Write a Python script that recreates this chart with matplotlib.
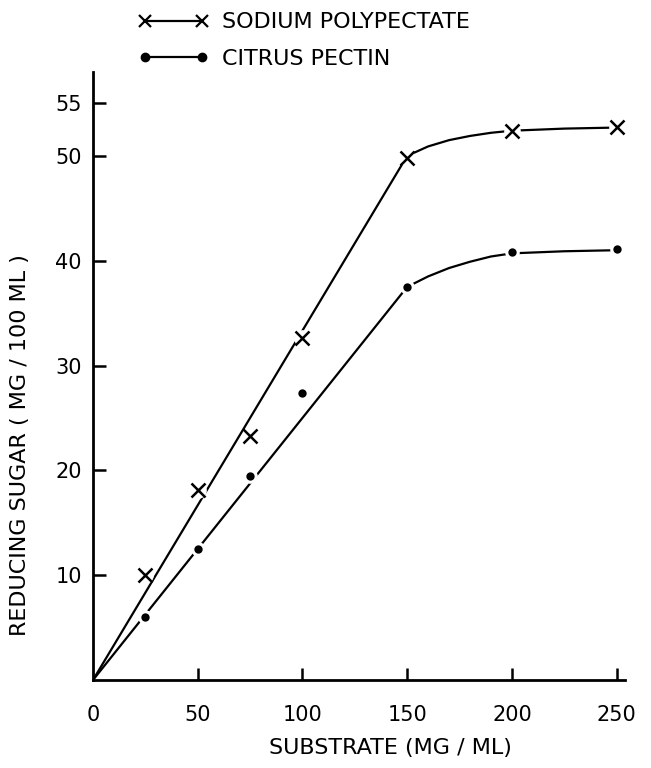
import matplotlib
matplotlib.use("Agg")
import matplotlib.pyplot as plt
from matplotlib.lines import Line2D

# Data
substrate = [25, 50, 75, 100, 150, 200, 250]
sodium_polypectate = [10.0, 18.1, 23.3, 32.6, 49.8, 52.4, 52.8]
citrus_pectin = [6.0, 12.5, 19.5, 27.4, 37.5, 40.8, 41.1]

# Hand-drawn fitted curves (knots)
fit_x = [0, 150, 160, 170, 180, 190, 200, 225, 250]
fit_sodium = [0, 50.0, 50.9, 51.5, 51.9, 52.2, 52.4, 52.6, 52.7]
fit_citrus = [0, 37.5, 38.5, 39.3, 39.9, 40.4, 40.7, 40.9, 41.0]

x_ticks = [0, 50, 100, 150, 200, 250]
y_ticks = [10, 20, 30, 40, 50, 55]

plt.rcParams['font.family'] = ['DejaVu Sans']

fig = plt.figure(figsize=(6.51, 7.68), dpi=100)
ax = fig.add_axes([93/651, 88/768, (625-93)/651, (680-72)/768])

ax.plot(fit_x, fit_sodium, color='black', lw=1.6, solid_capstyle='round')
ax.plot(fit_x, fit_citrus, color='black', lw=1.6, solid_capstyle='round')
# white halos give the small gaps of the hand-drawn line around marks
ax.plot(substrate, sodium_polypectate, linestyle='none', marker='o',
        color='white', markersize=12, markeredgewidth=0, zorder=3)
ax.plot(substrate, citrus_pectin, linestyle='none', marker='o',
        color='white', markersize=10.5, markeredgewidth=0, zorder=3)
ax.plot(substrate, sodium_polypectate, linestyle='none', marker='x',
        color='black', markersize=10, markeredgewidth=1.8, zorder=4)
ax.plot(substrate, citrus_pectin, linestyle='none', marker='o',
        color='black', markersize=6, markeredgewidth=0, zorder=4)

ax.set_xlim(0, 254)
ax.set_ylim(0, 58)
for s in ['top', 'right']:
    ax.spines[s].set_visible(False)
for s in ['left', 'bottom']:
    ax.spines[s].set_linewidth(2)

ax.set_xticks(x_ticks)
ax.set_xticklabels([str(v) for v in x_ticks])
ax.set_yticks(y_ticks)
ax.set_yticklabels([str(v) for v in y_ticks])
ax.tick_params(axis='x', direction='in', length=9, width=1.8, pad=18,
               labelsize=15)
ax.tick_params(axis='y', direction='in', length=9, width=1.8, pad=8,
               labelsize=15)
ax.xaxis.get_major_ticks()[0].tick1line.set_visible(False)

ax.set_xlabel('SUBSTRATE (MG / ML)', fontsize=16)
ax.set_ylabel('REDUCING SUGAR ( MG / 100 ML )', fontsize=16)
ax.xaxis.set_label_coords((390-93)/532, -(748-680)/608, transform=ax.transAxes)
ax.yaxis.set_label_coords(-(93-20)/532, (680-445)/608, transform=ax.transAxes)
ax.xaxis.label.set_va('center')
ax.yaxis.label.set_va('center')

handles = [
    Line2D([], [], color='black', lw=1.6, marker='x', markersize=9,
           markeredgewidth=1.6),
    Line2D([], [], color='black', lw=1.6, marker='o', markersize=6),
]
labels = ['SODIUM POLYPECTATE', 'CITRUS PECTIN']
fig.legend(handles, labels, loc='upper left', bbox_to_anchor=(118/651, 1.01),
           frameon=False, numpoints=2, handlelength=3.2, fontsize=16,
           labelspacing=0.75, handletextpad=0.6)

fig.savefig('out.png', dpi=100, facecolor='white')
